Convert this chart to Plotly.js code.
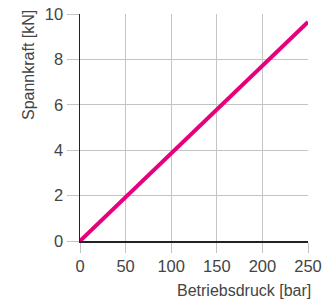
<!DOCTYPE html>
<html><head><meta charset="utf-8">
<script src="https://cdn.plot.ly/plotly-3.0.1.min.js"></script>
<style>html,body{margin:0;padding:0;background:#fff}</style>
</head><body><div id="chart" style="width:332px;height:304px"></div>
<script>
const pressure = [0, 250];
const force = [0, 9.65];
const xTicks = [0, 50, 100, 150, 200, 250];
const yTicks = [0, 2, 4, 6, 8, 10];
const xTitle = "Betriebsdruck [bar]";
const yTitle = "Spannkraft [kN]";

const font = {family: "Liberation Sans, Arial, sans-serif", size: 16, color: "#444"};
Plotly.newPlot("chart", [{
  x: pressure, y: force, type: "scatter", mode: "lines",
  line: {color: "#e6007e", width: 4}, hoverinfo: "skip"
}], {
  width: 332, height: 304,
  margin: {l: 79.5, r: 23.5, t: 14, b: 62.5},
  paper_bgcolor: "#fff", plot_bgcolor: "#fff",
  showlegend: false, font: font,
  xaxis: {range: [0, 250], tickvals: xTicks, ticktext: xTicks.map(String),
    showgrid: true, gridcolor: "#c4c4c4", gridwidth: 1,
    showline: true, linecolor: "#222", linewidth: 1.5,
    ticks: "outside", ticklen: 10, tickcolor: "#c4c4c4", tickwidth: 1,
    zeroline: false, tickfont: {...font, size: 16.5}},
  yaxis: {range: [0, 10], tickvals: yTicks, ticktext: yTicks.map(String),
    showgrid: true, gridcolor: "#c4c4c4", gridwidth: 1,
    showline: true, linecolor: "#222", linewidth: 1.5,
    ticks: "outside", ticklen: 12, tickcolor: "#c4c4c4", tickwidth: 1,
    zeroline: false, tickfont: {...font, size: 16.5}},
  annotations: [
    {text: xTitle, xref: "paper", yref: "paper", x: 1.02, y: -0.17,
     xanchor: "right", yanchor: "top", showarrow: false, font: {...font, size: 16}},
    {text: yTitle, xref: "paper", yref: "paper", x: -0.225, y: 1.025,
     xanchor: "center", yanchor: "top", textangle: -90, showarrow: false, font: {...font, size: 16}}
  ]
}, {displayModeBar: false, staticPlot: true});
</script></body></html>
